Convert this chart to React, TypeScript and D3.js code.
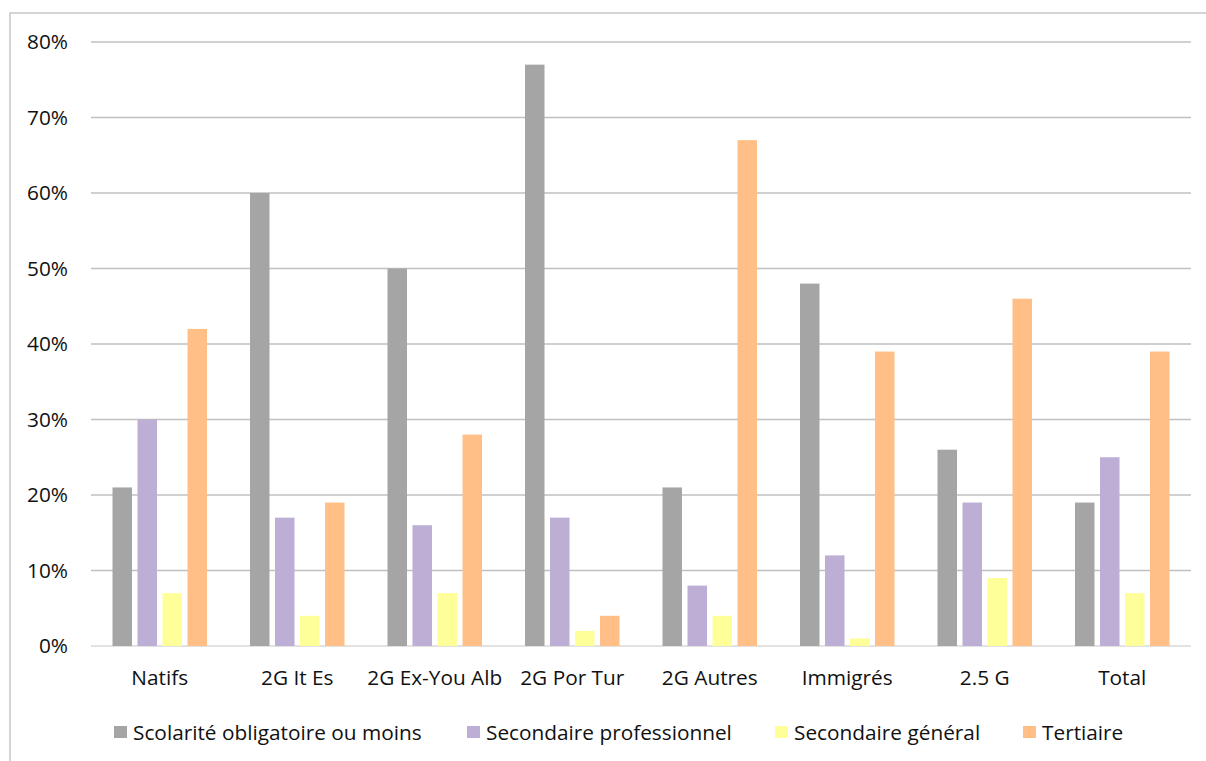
import React from 'react'
import * as d3 from 'd3'

const categories = ['Natifs', '2G It Es', '2G Ex-You Alb', '2G Por Tur', '2G Autres', 'Immigrés', '2.5 G', 'Total']
const seriesNames = ['Scolarité obligatoire ou moins', 'Secondaire professionnel', 'Secondaire général', 'Tertiaire']
const seriesColors = ['#a5a5a5', '#bcaed4', '#ffff99', '#ffbf86']

// values in %, one array per series
const scolarite = [21, 60, 50, 77, 21, 48, 26, 19]
const professionnel = [30, 17, 16, 17, 8, 12, 19, 25]
const general = [7, 4, 7, 2, 4, 1, 9, 7]
const tertiaire = [42, 19, 28, 4, 67, 39, 46, 39]
const seriesValues = [scolarite, professionnel, general, tertiaire]

const yTicks = [0, 10, 20, 30, 40, 50, 60, 70, 80]

const W = 1206
const H = 761
const margin = {top: 42, right: 15, bottom: 115, left: 91}
const FONT = 'Open Sans, sans-serif'
const FS = 20.8

export default function App() {
  const x0 = d3
    .scaleBand<string>()
    .domain(categories)
    .range([margin.left, W - margin.right])
  const x1 = d3
    .scaleBand<string>()
    .domain(seriesNames)
    .range([0, x0.bandwidth()])
    .paddingOuter(0.75)
  const y = d3
    .scaleLinear()
    .domain([0, 80])
    .range([H - margin.bottom, margin.top])

  const barW = x1.bandwidth() * 0.78
  const legendX = [114, 467, 775, 1023] // legend item starts

  return (
    <svg
      width={W}
      height={H}
      style={{position: 'absolute', left: 0, top: 0, background: '#fff'}}
      fontFamily={FONT}
    >
      <rect x={10} y={13} width={W} height={H} fill="#fff" stroke="#c6c6c6" strokeWidth={1.5} />

      {/* gridlines and y labels */}
      {yTicks.map(t => (
        <g key={t}>
          <line
            x1={margin.left}
            x2={W - margin.right}
            y1={y(t)}
            y2={y(t)}
            stroke={t === 0 ? '#d9d9d9' : '#c0c0c0'}
            strokeWidth={1.5}
          />
          <text x={68} y={y(t)} dy="0.36em" textAnchor="end" fontSize={FS} fill="#111">
            {t}%
          </text>
        </g>
      ))}

      {/* bars */}
      {categories.map((c, i) => (
        <g key={c} transform={`translate(${x0(c)},0)`}>
          {seriesNames.map((s, j) => {
            const v = seriesValues[j][i]
            const cx = (x1(s) as number) + x1.bandwidth() / 2
            return (
              <rect
                key={s}
                x={cx - barW / 2}
                y={y(v)}
                width={barW}
                height={y(0) - y(v)}
                fill={seriesColors[j]}
              />
            )
          })}
          <text
            x={x0.bandwidth() / 2}
            y={685}
            textAnchor="middle"
            fontSize={FS}
            fill="#111"
          >
            {c}
          </text>
        </g>
      ))}

      {/* legend */}
      {seriesNames.map((s, j) => (
        <g key={s} transform={`translate(${legendX[j]},726)`}>
          <rect width={13} height={12} fill={seriesColors[j]} />
          <text x={19} y={6} dy="0.36em" fontSize={FS} fill="#111">
            {s}
          </text>
        </g>
      ))}
    </svg>
  )
}
